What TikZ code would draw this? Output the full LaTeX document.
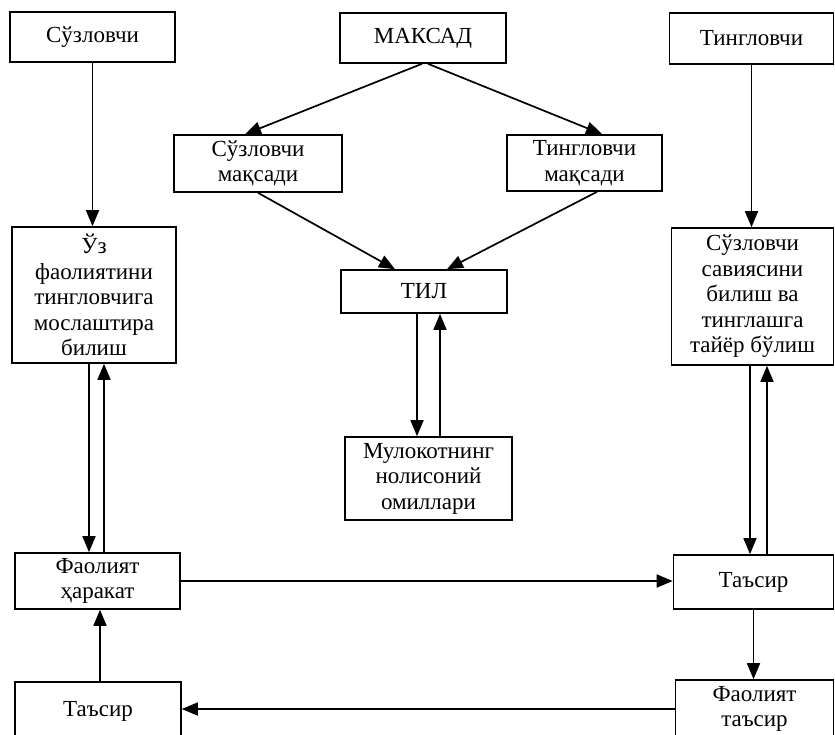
\documentclass[tikz,border=0pt]{standalone}
\usepackage{fontspec}
\setmainfont{Liberation Serif}
\usetikzlibrary{arrows.meta,positioning}
\begin{document}
\begin{tikzpicture}[x=1pt,y=-1pt,
        box/.style={draw,line width=1.6pt,align=center,inner sep=0pt,font=\fontsize{23}{25.5}\selectfont},
        arr/.style={line width=1.7pt,-{Triangle[length=16pt,width=13pt]}}]
        \useasboundingbox (0,0) rectangle (835,734);
        % top row
        \node[box,minimum width=165pt,minimum height=50pt] (spk) at (92.5,37) {Сўзловчи};
        \node[box,minimum width=166pt,minimum height=50pt] (goal) at (423,38) {МАКСАД};
        \node[box,minimum width=164pt,minimum height=51pt] (lst) at (751.5,38.5) {Тингловчи};
        \node[box,minimum width=168pt,minimum height=57pt] (spkgoal) at (258,163.5) {Сўзловчи\\мақсади};
        \node[box,minimum width=155pt,minimum height=56pt] (lstgoal) at (584.5,163) {Тингловчи\\мақсади};
        % middle
        \node[box,minimum width=164pt,minimum height=136pt] (adapt) at (94,295) {Ўз\\фаолиятини\\тингловчига\\мослаштира\\билиш};
        \node[box,minimum width=166pt,minimum height=43pt] (lang) at (424,291.5) {ТИЛ};
        \node[box,minimum width=167pt,minimum height=83pt] (nonverb) at (428.5,478.5) {Мулокотнинг\\нолисоний\\омиллари};
        \node[box,minimum width=162pt,minimum height=137pt] (ready) at (752.5,296.5) {Сўзловчи\\савиясини\\билиш ва\\тинглашга\\тайёр бўлиш};
        % bottom
        \node[box,minimum width=165pt,minimum height=56pt] (act) at (97.5,581) {Фаолият\\ҳаракат};
        \node[box,minimum width=160pt,minimum height=54pt] (effR) at (753.5,582) {Таъсир};
        \node[box,minimum width=166pt,minimum height=58pt] (effL) at (98,711) {Таъсир};
        \node[box,minimum width=158pt,minimum height=58pt] (actR) at (754.5,709) {Фаолият\\таъсир};
        % arrows
        \draw[arr] (spk.south) -- (spk.south |- adapt.north);
        \draw[arr] ([xshift=-1pt]goal.south) -- ([xshift=-13pt]spkgoal.north);
        \draw[arr] ([xshift=5pt]goal.south) -- ([xshift=17.5pt]lstgoal.north);
        \draw[arr] (spkgoal.south) -- ([xshift=-29pt]lang.north);
        \draw[arr] ([xshift=12.5pt]lstgoal.south) -- ([xshift=23pt]lang.north);
        \draw[arr] ([xshift=-7pt]lang.south) -- ([xshift=-7pt]lang.south |- nonverb.north);
        \draw[arr] ([xshift=16pt]lang.south |- nonverb.north) -- ([xshift=16pt]lang.south);
        \draw[arr] ([xshift=-5pt]adapt.south) -- ([xshift=-5pt]adapt.south |- act.north);
        \draw[arr] ([xshift=10pt]adapt.south |- act.north) -- ([xshift=10pt]adapt.south);
        \draw[arr] (lst.south) -- (lst.south |- ready.north);
        \draw[arr] ([xshift=-2.5pt]ready.south) -- ([xshift=-2.5pt]ready.south |- effR.north);
        \draw[arr] ([xshift=14.5pt]ready.south |- effR.north) -- ([xshift=14.5pt]ready.south);
        \draw[arr] (act.east) -- (act.east -| effR.west);
        \draw[arr] (effR.south) -- (effR.south |- actR.north);
        \draw[arr] (actR.west) -- (actR.west -| effL.east);
        \draw[arr] ([xshift=2pt]effL.north) -- ([xshift=2pt]effL.north |- act.south);
\end{tikzpicture}
\end{document}
